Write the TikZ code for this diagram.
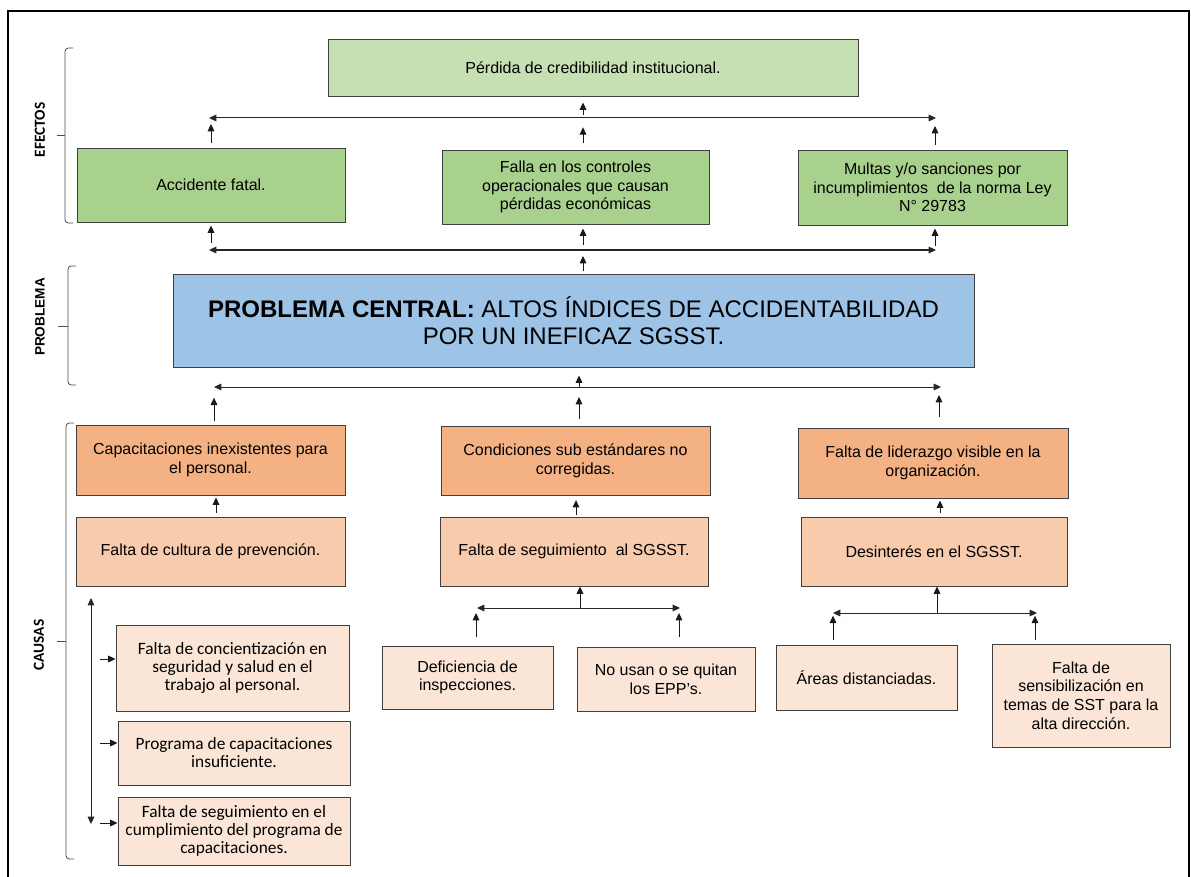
\documentclass[tikz,border=0pt]{standalone}
\usepackage{fontspec}
\setmainfont{Liberation Sans}
\newfontfamily\calib{Carlito}
\usetikzlibrary{arrows.meta}
\definecolor{lgreen}{HTML}{C6E0B4}
\definecolor{mgreen}{HTML}{A9D18E}
\definecolor{pblue}{HTML}{9DC3E6}
\definecolor{porange}{HTML}{F4B183}
\definecolor{ppeach}{HTML}{F8CBAD}
\definecolor{plight}{HTML}{FBE5D6}
\tikzset{
  box/.style={draw=black!75, line width=0.7pt, align=center, inner sep=1pt,
    font=\fontsize{12}{14}\selectfont},
  cbox/.style={font=\calib\fontsize{13}{13.5}\selectfont},
  arr/.style={-{Triangle[length=5.5pt,width=5pt]}, line width=0.75pt, draw=black!90},
  darr/.style={{Triangle[length=5.5pt,width=5pt]}-{Triangle[length=5.5pt,width=5pt]}, line width=0.75pt, draw=black!85},
  bracebar/.style={draw=black!70, line width=0.6pt, rounded corners=2.5pt},
  sidelabel/.style={rotate=90, font=\calib\bfseries\fontsize{11.5}{12}\selectfont},
  x=0.75pt, y=-0.75pt
}
\newcommand\bx[7]{\node[box,#6,minimum width={0.75pt*(#4-#2)},minimum height={0.75pt*(#5-#3)}] (#1) at ({(#2+#4)/2},{(#3+#5)/2}) {#7};}
\begin{document}
\begin{tikzpicture}
\useasboundingbox (0,0) rectangle (1191,877);
% outer frame
\draw[line width=1.4pt] (8,877) -- (8,11) -- (1189,11) -- (1189,877);

% side labels and braces
\node[sidelabel] (lefe) at (40,130) {EFECTOS};
\node[rotate=90, font=\bfseries\fontsize{10.2}{12}\selectfont] (lpro) at (40,317) {PROBLEMA};
\node[sidelabel] (lcau) at (39,645) {CAUSAS};
\draw[bracebar] (73,48) -- (65,48) -- (65,223) -- (73,223);
\draw[bracebar] (57,135) -- (65,135);
\draw[bracebar] (76,266) -- (68,266) -- (68,385) -- (76,385);
\draw[bracebar] (58,326) -- (68,326);
\draw[bracebar] (74,423) -- (66,423) -- (66,859) -- (74,859);
\draw[bracebar] (57,641) -- (66,641);

% effects
\bx{perd}{328}{39}{858}{96}{fill=lgreen}{P\'erdida de credibilidad institucional.}
\bx{acc}{77}{148}{345}{222}{fill=mgreen}{Accidente fatal.}
\bx{falla}{442}{150}{709}{224}{fill=mgreen}{Falla en los controles\\operacionales que causan\\p\'erdidas econ\'omicas}
\bx{multas}{798}{150}{1067}{225}{fill=mgreen}{Multas y/o sanciones por\\incumplimientos\ \ de la norma Ley\\N° 29783}

% problem
\node[box, fill=pblue, minimum width={0.75pt*801}, minimum height={0.75pt*93},
  font=\fontsize{18}{20.3}\selectfont] (prob) at (573.5,320.5)
  {\textbf{PROBLEMA CENTRAL:} ALTOS ÍNDICES DE ACCIDENTABILIDAD\\POR UN INEFICAZ SGSST.};

% causes level 1
\bx{cap}{76}{425}{345}{495}{fill=porange}{Capacitaciones inexistentes para\\el personal.}
\bx{cond}{441}{426}{710}{495}{fill=porange}{Condiciones sub est\'andares no\\corregidas.}
\bx{lid}{798}{428}{1068}{498}{fill=porange}{Falta de liderazgo visible en la\\organizaci\'on.}
% causes level 2
\bx{cult}{76}{517}{345}{586}{fill=ppeach}{Falta de cultura de prevenci\'on.}
\bx{seg}{440}{517}{708}{586}{fill=ppeach}{Falta de seguimiento\ \ al SGSST.}
\bx{des}{801}{517}{1067}{586}{fill=ppeach}{Desinter\'es en el SGSST.}
% causes level 3
\bx{def}{382}{646}{553}{709}{fill=plight}{Deficiencia de\\inspecciones.}
\bx{nous}{577}{647}{755}{711}{fill=plight}{No usan o se quitan\\los EPP{\char"0027}s.}
\bx{areas}{776}{645}{957}{710}{fill=plight}{\'Areas distanciadas.}
\bx{sens}{992}{644}{1170}{747}{fill=plight}{Falta de\\sensibilizaci\'on en\\temas de SST para la\\alta direcci\'on.}
\bx{conc}{116}{625}{349}{711}{fill=plight,cbox}{Falta de concientizaci\'on en\\seguridad y salud en el\\trabajo al personal.}
\bx{prog}{118}{721}{350}{785}{fill=plight,cbox}{Programa de capacitaciones\\insuficiente.}
\bx{fseg}{118}{797}{350}{865}{fill=plight,cbox}{Falta de seguimiento en el\\cumplimiento del programa de\\capacitaciones.}

% ---------- connectors: effects ----------
\coordinate (L1a) at (209,118); \coordinate (L1b) at (936,118);
\coordinate (L2a) at (209,250); \coordinate (L2b) at (936,250);
\coordinate (eL) at (211,0); \coordinate (eM) at (583,0); \coordinate (eR) at (935,0);
\draw[darr] (L1a) -- (L1b);
\draw[darr] (L2a) -- (L2b);
\draw[arr, shorten <=3.75pt, shorten >=4.5pt] (acc.north -| eL) -- (eL |- L1a);
\draw[arr, shorten <=5pt, shorten >=7pt] (falla.north -| eM) -- (eM |- L1a);
\draw[arr, shorten <=3.75pt, shorten >=6pt] (multas.north -| eR) -- (eR |- L1a);
\draw[arr, shorten <=2.25pt, shorten >=4.5pt] (eM |- L1a) -- (perd.south -| eM);
\draw[arr, shorten <=5pt, shorten >=2.25pt] (eL |- L2a) -- (acc.south -| eL);
\draw[arr, shorten <=3.75pt, shorten >=3pt] (eM |- L2a) -- (falla.south -| eM);
\draw[arr, shorten <=3pt, shorten >=2.25pt] (eR |- L2a) -- (multas.south -| eR);
\draw[arr, shorten <=2.25pt, shorten >=4.5pt] (prob.north -| eM) -- (eM |- L2a);

% ---------- connectors: causes to problem ----------
\coordinate (L3a) at (214,387); \coordinate (L3b) at (941,387);
\coordinate (cL) at (214,0); \coordinate (cM) at (579,0); \coordinate (cR) at (939,0);
\draw[darr] (L3a) -- (L3b);
\draw[arr, shorten <=3pt, shorten >=8pt] (cap.north -| cL) -- (cL |- L3a);
\draw[arr, shorten <=5pt, shorten >=7.5pt] (cond.north -| cM) -- (cM |- L3a);
\draw[arr, shorten <=8pt, shorten >=6pt] (lid.north -| cR) -- (cR |- L3a);
\draw[arr, shorten >=6pt] (cM |- L3a) -- (prob.south -| cM);

% level 2 to level 1
\coordinate (dL) at (216,0); \coordinate (dM) at (576,0); \coordinate (dR) at (940,0);
\draw[arr, shorten <=3pt, shorten >=1.5pt] (cult.north -| dL) -- (cap.south -| dL);
\draw[arr, shorten <=1.5pt, shorten >=3.5pt] (seg.north -| dM) -- (cond.south -| dM);
\draw[arr, shorten <=3pt, shorten >=1.5pt] (des.north -| dR) -- (lid.south -| dR);

% middle subtree
\coordinate (L4a) at (477,608); \coordinate (L4b) at (680,608);
\coordinate (sM) at (580,608); \coordinate (sL) at (476,0); \coordinate (sR) at (679,0);
\draw[darr] (L4a) -- (L4b);
\draw[arr] (sM) -- (seg.south -| sM);
\draw[arr, shorten <=6.75pt, shorten >=3.75pt] (def.north -| sL) -- (sL |- L4a);
\draw[arr, shorten <=7.5pt, shorten >=3.75pt] (nous.north -| sR) -- (sR |- L4a);

% right subtree
\coordinate (L5a) at (833,613); \coordinate (L5b) at (1037,613);
\coordinate (rM) at (937,613); \coordinate (rL) at (833,0); \coordinate (rR) at (1035,0);
\draw[darr] (L5a) -- (L5b);
\draw[arr] (rM) -- (des.south -| rM);
\draw[arr, shorten <=3.75pt, shorten >=2pt] (areas.north -| rL) -- (rL |- L5a);
\draw[arr, shorten <=3pt, shorten >=2pt] (sens.north -| rR) -- (rR |- L5a);

% left subtree
\coordinate (V1) at (91,598); \coordinate (V2) at (91,824);
\draw[darr] (V1) -- (V2);
\coordinate (h1) at (100,659); \coordinate (h2) at (100,743); \coordinate (h3) at (100,823);
\draw[arr] (h1) -- (conc.west |- h1);
\draw[arr] (h2) -- (prog.west |- h2);
\draw[arr] (h3) -- (fseg.west |- h3);
\end{tikzpicture}
\end{document}
